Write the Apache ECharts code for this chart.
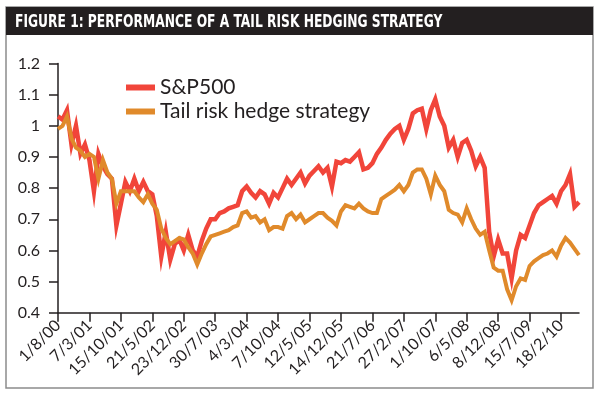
<!DOCTYPE html>
<html>
<head>
<meta charset="utf-8">
<script src="https://cdn.jsdelivr.net/npm/echarts@6/dist/echarts.min.js"></script>
<style>
  html, body { margin: 0; padding: 0; background: #fff; }
  #chart { width: 600px; height: 398px; }
</style>
</head>
<body>
<div id="chart"></div>
<script>
// tick labels, one every 7 observations
var tickLabels = ['1/8/00', '7/3/01', '15/10/01', '21/5/02', '23/12/02', '30/7/03', '4/3/04', '7/10/04',
  '12/5/05', '14/12/05', '21/7/06', '27/2/07', '1/10/07', '6/5/08', '8/12/08', '15/7/09', '18/2/10'];

// S&P500 (red)
var sp500 = [
  1.03, 1.02, 1.05, 0.94, 1.00, 0.91, 0.94, 0.89, 0.79, 0.91,
  0.87, 0.845, 0.83, 0.68, 0.75, 0.82, 0.79, 0.83, 0.79, 0.82,
  0.79, 0.78, 0.71, 0.58, 0.66, 0.57, 0.62, 0.635, 0.60, 0.65,
  0.60, 0.58, 0.63, 0.67, 0.70, 0.70, 0.72, 0.725, 0.735, 0.74,
  0.745, 0.79, 0.805, 0.785, 0.77, 0.79, 0.78, 0.75, 0.785, 0.77,
  0.80, 0.83, 0.81, 0.83, 0.85, 0.815, 0.84, 0.855, 0.87, 0.85,
  0.865, 0.805, 0.885, 0.88, 0.89, 0.885, 0.90, 0.915, 0.86, 0.865,
  0.88, 0.91, 0.93, 0.955, 0.975, 0.99, 1.00, 0.955, 0.99, 1.04,
  1.05, 1.055, 0.99, 1.05, 1.085, 1.03, 1.00, 0.93, 0.955, 0.90,
  0.945, 0.955, 0.92, 0.87, 0.90, 0.865, 0.66, 0.58, 0.635, 0.59,
  0.59, 0.51, 0.60, 0.65, 0.64, 0.68, 0.72, 0.745, 0.755, 0.765,
  0.775, 0.75, 0.79, 0.81, 0.845, 0.74, 0.755
];

// Tail risk hedge strategy (orange)
var tailHedge = [
  0.99, 1.00, 1.03, 0.96, 0.93, 0.92, 0.90, 0.91, 0.90, 0.83,
  0.89, 0.85, 0.83, 0.75, 0.79, 0.79, 0.79, 0.79, 0.77, 0.755,
  0.78, 0.75, 0.73, 0.67, 0.64, 0.62, 0.63, 0.64, 0.635, 0.61,
  0.59, 0.555, 0.59, 0.62, 0.645, 0.65, 0.655, 0.66, 0.665, 0.675,
  0.68, 0.72, 0.725, 0.705, 0.71, 0.69, 0.70, 0.665, 0.675, 0.675,
  0.67, 0.71, 0.72, 0.70, 0.715, 0.69, 0.70, 0.71, 0.72, 0.72,
  0.705, 0.695, 0.68, 0.725, 0.745, 0.74, 0.735, 0.75, 0.735, 0.725,
  0.72, 0.72, 0.765, 0.775, 0.785, 0.795, 0.81, 0.79, 0.81, 0.85,
  0.86, 0.86, 0.83, 0.78, 0.84, 0.81, 0.79, 0.73, 0.72, 0.715,
  0.69, 0.735, 0.70, 0.67, 0.65, 0.66, 0.60, 0.545, 0.535, 0.535,
  0.475, 0.44, 0.485, 0.51, 0.505, 0.55, 0.565, 0.575, 0.585, 0.59,
  0.60, 0.58, 0.615, 0.64, 0.625, 0.605, 0.585
];

var categories = sp500.map(function (v, i) {
  return i % 7 === 0 ? tickLabels[i / 7] : '';
});

var chart = echarts.init(document.getElementById('chart'), null, { renderer: 'canvas' });

var font = 'Lato, "Noto Sans", sans-serif';

var option = {
  backgroundColor: '#ffffff',
  animation: false,
  graphic: [
    // outer frame
    {
      type: 'rect',
      shape: { x: 6, y: 7, width: 587, height: 381 },
      style: { fill: 'none', stroke: '#8c8c8c', lineWidth: 1.5 }
    },
    // title bar
    {
      type: 'rect',
      shape: { x: 6, y: 7, width: 587, height: 28 },
      style: { fill: '#231f20' }
    },
    {
      type: 'text',
      x: 15,
      y: 22,
      scaleX: 0.78,
      style: {
        text: 'FIGURE 1: PERFORMANCE OF A TAIL RISK HEDGING STRATEGY',
        font: 'bold 17.5px "DejaVu Sans Condensed", "DejaVu Sans", sans-serif',
        fill: '#ffffff',
        textVerticalAlign: 'middle'
      }
    }
  ],
  legend: {
    orient: 'vertical',
    left: 121,
    top: 72,
    itemWidth: 29,
    itemHeight: 6,
    itemGap: 3,
    icon: 'rect',
    textStyle: { fontFamily: font, fontSize: 21, color: '#231f20', padding: [0, 0, 0, 0] },
    data: ['S&P500', 'Tail risk hedge strategy']
  },
  grid: { left: 58, right: 21, top: 63.5, bottom: 85.3, containLabel: false },
  xAxis: {
    type: 'category',
    boundaryGap: false,
    data: categories,
    axisLine: { lineStyle: { color: '#231f20', width: 1.5 } },
    axisTick: { interval: 6, length: 9, lineStyle: { color: '#231f20', width: 1.5 } },
    axisLabel: {
      interval: 6,
      rotate: 45,
      margin: 10,
      fontFamily: font,
      fontSize: 16,
      color: '#231f20'
    },
    splitLine: { show: false }
  },
  yAxis: {
    type: 'value',
    min: 0.4,
    max: 1.2,
    interval: 0.1,
    axisLine: { show: true, lineStyle: { color: '#231f20', width: 1.5 } },
    axisTick: { show: true, length: 9, lineStyle: { color: '#231f20', width: 1.5 } },
    axisLabel: {
      margin: 18,
      fontFamily: font,
      fontSize: 16,
      color: '#231f20',
      formatter: function (v) { return String(Math.round(v * 10) / 10); }
    },
    splitLine: { show: false }
  },
  series: [
    {
      name: 'S&P500',
      type: 'line',
      data: sp500,
      symbol: 'none',
      color: '#f1453a',
      lineStyle: { width: 4.5, color: '#f1453a', join: 'miter' }
    },
    {
      name: 'Tail risk hedge strategy',
      type: 'line',
      data: tailHedge,
      symbol: 'none',
      color: '#e08a2b',
      lineStyle: { width: 4, color: '#e08a2b', join: 'miter' }
    }
  ]
};

chart.setOption(option);
</script>
</body>
</html>
